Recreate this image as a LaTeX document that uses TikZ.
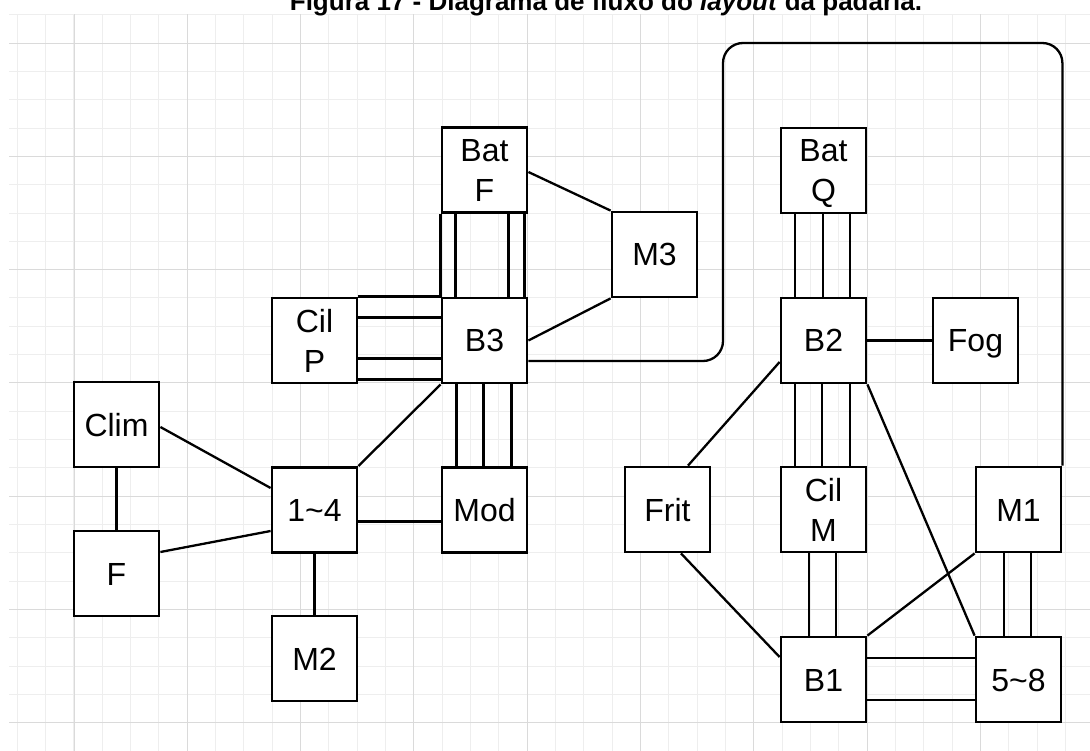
\documentclass[tikz,border=0pt]{standalone}
\usepackage{fontspec}
\setmainfont{Liberation Sans}
\definecolor{gridminor}{RGB}{238,238,238}
\definecolor{gridmajor}{RGB}{218,218,218}
\begin{document}
\begin{tikzpicture}[x=1pt,y=-1pt,
  box/.style={draw=black,line width=2.8pt,fill=white,minimum width=85pt,minimum height=85pt,inner sep=0pt,font=\fontsize{32}{40}\selectfont},
  onebox/.style={box,text height=23pt,text depth=0pt},
  twobox/.style={box,align=center},
  link/.style={draw=black,line width=2.3pt},
  minorline/.style={draw=gridminor,line width=1pt},
  majorline/.style={draw=gridmajor,line width=1pt}]
\useasboundingbox (0,0) rectangle (1090,751);
% grid
\foreach \i in {0,...,37}{\pgfmathsetmacro\xx{floor(17.33+\i*28.333)+0.5}\draw[minorline] (\xx,14.5) -- (\xx,751);}
\foreach \j in {0,...,25}{\pgfmathsetmacro\yy{floor(14.67+\j*28.333)+0.5}\draw[minorline] (9,\yy) -- (1090,\yy);}
\foreach \i in {0,...,8}{\pgfmathsetmacro\xx{floor(74+\i*113.333)+0.5}\draw[majorline] (\xx,14.5) -- (\xx,751);}
\foreach \j in {0,...,6}{\pgfmathsetmacro\yy{floor(43+\j*113.333)+0.5}\draw[majorline] (9,\yy) -- (1090,\yy);}
% title
\node[anchor=base,font=\fontsize{26}{30}\selectfont\bfseries,inner sep=0pt] (title) at (606,11) {Figura 17 - Diagrama de fluxo do \textit{layout} da padaria.};
% nodes
\node[twobox] (BatF) at (484.5,170) {Bat\\F};
\node[onebox] (B3) at (484.5,340.5) {B3};
\node[twobox] (CilP) at (314.5,340.5) {Cil\\P};
\node[onebox] (M3) at (654.5,254.5) {M3};
\node[onebox] (Mod) at (484.5,510) {Mod};
\node[onebox] (One) at (314.5,510) {1\textasciitilde 4};
\node[onebox] (Clim) at (116.5,424.5) {Clim};
\node[onebox] (F) at (116.5,573.5) {F};
\node[onebox] (M2) at (314.5,658.5) {M2};
\node[twobox] (BatQ) at (823.5,170.5) {Bat\\\smash{Q}};
\node[onebox] (B2) at (823.5,340.5) {B2};
\node[onebox] (Fog) at (975.5,340.5) {Fog};
\node[onebox] (Frit) at (667.5,509.5) {Frit};
\node[twobox] (CilM) at (823.5,509.5) {Cil\\M};
\node[onebox] (M1) at (1018.5,509.5) {M1};
\node[onebox] (B1) at (823.5,679.5) {B1};
\node[onebox] (Five) at (1018.5,679.5) {5\textasciitilde 8};
% connectors: left cluster
\foreach \s in {0,15,68,84}{\draw[link] ([xshift=\s pt]BatF.south west) -- ([xshift=\s pt]B3.north west);}
\foreach \s in {0,-21,-62,-83}{\draw[link] ([yshift=\s pt]CilP.north east) -- ([yshift=\s pt]B3.north west);}
\foreach \s in {-28,-1,27}{\draw[link] ([xshift=\s pt]B3.south) -- ([xshift=\s pt]Mod.north);}
\draw[link] ([yshift=-2pt]BatF.east) -- (M3.north west);
\draw[link] (B3.east) -- (M3.south west);
\draw[link] (One.north east) -- (B3.south west);
\draw[link] ([yshift=-11.5pt]One.east) -- ([yshift=-11.5pt]Mod.west);
\draw[link] ([yshift=-2.5pt]Clim.east) -- ([yshift=22pt]One.west);
\draw[link] ([yshift=21.5pt]F.east) -- ([yshift=-21pt]One.west);
\draw[link] (Clim.south) -- (F.north);
\draw[link] (One.south) -- (M2.north);
% long loop
\coordinate (loopA) at (723,43);
\draw[link,rounded corners=20pt] ([yshift=-20.5pt]B3.east) -| (loopA) -| (M1.north east);
% right cluster
\foreach \s in {-28.5,-0.5,26.5}{\draw[link] ([xshift=\s pt]BatQ.south) -- ([xshift=\s pt]B2.north);}
\foreach \s in {-28.5,-1.5,26.5}{\draw[link] ([xshift=\s pt]B2.south) -- ([xshift=\s pt]CilM.north);}
\foreach \s in {-14.5,12.5}{\draw[link] ([xshift=\s pt]CilM.south) -- ([xshift=\s pt]B1.north);}
\foreach \s in {-14.5,12.5}{\draw[link] ([xshift=\s pt]M1.south) -- ([xshift=\s pt]Five.north);}
\foreach \s in {21.5,-20.5}{\draw[link] ([yshift=\s pt]B1.east) -- ([yshift=\s pt]Five.west);}
\draw[link] (B2.east) -- (Fog.west);
\draw[link] ([xshift=20.5pt]Frit.north) -- ([yshift=-21.5pt]B2.west);
\draw[link] ([xshift=13.5pt]Frit.south) -- ([yshift=22.5pt]B1.west);
\draw[link] (B2.south east) -- (Five.north west);
\draw[link] (M1.south west) -- (B1.north east);
\end{tikzpicture}
\end{document}
